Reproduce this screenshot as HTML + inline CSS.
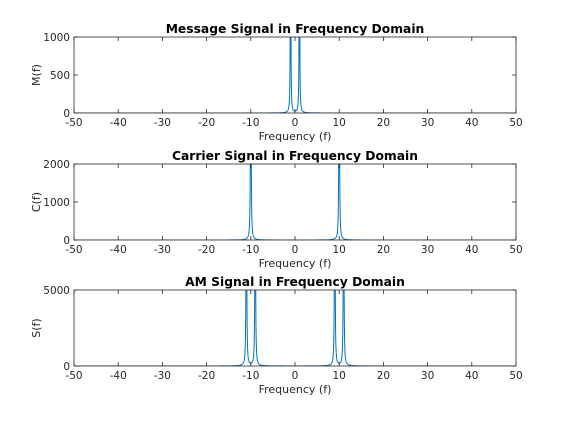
<!DOCTYPE html>
<html><head><meta charset="utf-8"><style>
body{margin:0;background:#fff;}
svg{display:block;font-family:"DejaVu Sans","Liberation Sans",sans-serif;}
</style></head><body>
<svg id="fig" width="570" height="422" viewBox="0 0 570 422"></svg>
<script>
const xTicks = [-50,-40,-30,-20,-10,0,10,20,30,40,50];
const titles = ["Message Signal in Frequency Domain","Carrier Signal in Frequency Domain","AM Signal in Frequency Domain"];
const yLabels = ["M(f)","C(f)","S(f)"];
const yMaxes = [1000,2000,5000];
const yTicks0 = [0,500,1000];
const yTicks1 = [0,1000,2000];
const yTicks2 = [0,5000];
const peakFreqs0 = [-1,1];
const peakAmps0 = [5000,5000];
const peakFreqs1 = [-10,10];
const peakAmps1 = [10000,10000];
const peakFreqs2 = [-11,-9,9,11];
const peakAmps2 = [25000,25000,25000,25000];
const peakWidths = [0.05,0.06,0.06];
const yTicksAll=[yTicks0,yTicks1,yTicks2];
const pf=[peakFreqs0,peakFreqs1,peakFreqs2], pa=[peakAmps0,peakAmps1,peakAmps2];
const NS="http://www.w3.org/2000/svg";
const svg=document.getElementById('fig');
function mk(t,a,p){const e=document.createElementNS(NS,t);for(const k in a)e.setAttribute(k,a[k]);(p||svg).appendChild(e);return e;}
const L=74,R=516,tops=[37,164,290],H=76;
for(let i=0;i<3;i++){
  const T=tops[i],B=T+H,ymax=yMaxes[i];
  const xs=v=>L+(v+50)/100*(R-L), ys=v=>B-v/ymax*H;
  const g=mk('g',{});
  
  
  const cp=mk('clipPath',{id:'c'+i},g);mk('rect',{x:L,y:T,width:R-L,height:H},cp);
  let d='';
  for(let k=0;k<=4000;k++){const f=-50+k*0.025;let v=0;
    for(let j=0;j<pf[i].length;j++){const u=(f-pf[i][j])/peakWidths[i];v+=pa[i][j]/(1+u*u);}
    d+=(k?'L':'M')+xs(f).toFixed(2)+','+ys(v).toFixed(2);}
  const line=mk('path',{d:d,fill:'none',stroke:'#0072bd','stroke-width':1,'clip-path':'url(#c'+i+')'},g);
  
  
  const box=mk('rect',{x:L,y:T,width:R-L,height:H,fill:'none',stroke:'#262626','stroke-width':0.8},g);
  
  
  xTicks.forEach(v=>{const x=xs(v);
    mk('line',{x1:x,x2:x,y1:B,y2:B-4,stroke:'#262626','stroke-width':0.8},g);
    mk('line',{x1:x,x2:x,y1:T,y2:T+4,stroke:'#262626','stroke-width':0.8},g);
    const t=mk('text',{x:x,y:B+13,'text-anchor':'middle','font-size':10.5,fill:'#262626'},g);t.textContent=v;
    
    });
  yTicksAll[i].forEach(v=>{const y=ys(v);
    mk('line',{x1:L,x2:L+4,y1:y,y2:y,stroke:'#262626','stroke-width':0.8},g);
    mk('line',{x1:R,x2:R-4,y1:y,y2:y,stroke:'#262626','stroke-width':0.8},g);
    const t=mk('text',{x:L-4,y:y+4,'text-anchor':'end','font-size':10.5,fill:'#262626'},g);t.textContent=v;
    
    });
  const ti=mk('text',{x:(L+R)/2,y:T-4,'text-anchor':'middle','font-size':12.3,'font-weight':'bold',fill:'#000'},g);ti.textContent=titles[i];
  
  
  const xl=mk('text',{x:(L+R)/2,y:B+27,'text-anchor':'middle','font-size':11,fill:'#262626'},g);xl.textContent='Frequency (f)';
  
  
  const yl=mk('text',{x:0,y:0,'text-anchor':'middle','font-size':11,fill:'#262626',transform:'translate(40,'+(T+H/2)+') rotate(-90)'},g);yl.textContent=yLabels[i];
  
  
}
</script>
</body></html>
